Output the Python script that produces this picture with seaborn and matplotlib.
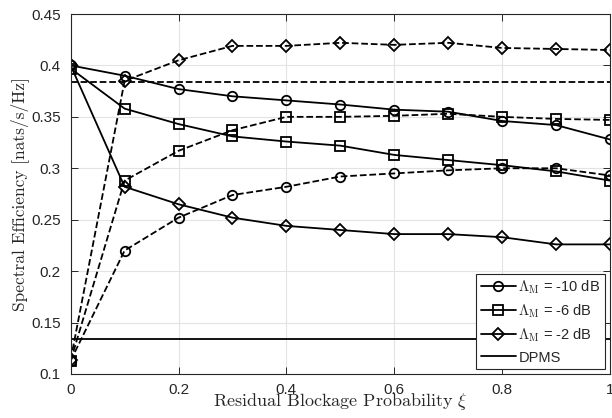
# Spectral efficiency vs residual blockage probability
import matplotlib
matplotlib.use("Agg")
import matplotlib.pyplot as plt
import seaborn as sns
import numpy as np
from matplotlib.lines import Line2D

xi = [0.0, 0.1, 0.2, 0.3, 0.4, 0.5, 0.6, 0.7, 0.8, 0.9, 1.0]

# solid curves
se_m10_solid = [0.400, 0.390, 0.377, 0.370, 0.366, 0.362, 0.357, 0.355, 0.346, 0.342, 0.328]
se_m6_solid = [0.397, 0.358, 0.343, 0.331, 0.326, 0.322, 0.313, 0.308, 0.303, 0.297, 0.288]
se_m2_solid = [0.400, 0.282, 0.265, 0.252, 0.244, 0.240, 0.236, 0.236, 0.233, 0.226, 0.226]

# dashed curves
se_m10_dash = [0.113, 0.220, 0.252, 0.274, 0.282, 0.292, 0.295, 0.298, 0.300, 0.300, 0.293]
se_m6_dash = [0.113, 0.288, 0.317, 0.337, 0.350, 0.350, 0.351, 0.353, 0.350, 0.348, 0.347]
se_m2_dash = [0.114, 0.385, 0.405, 0.419, 0.419, 0.422, 0.420, 0.422, 0.417, 0.416, 0.415]

upper_ref = 0.384
dpms = 0.134

labels = [r'$\Lambda_{\mathrm{M}}$ = -10 dB', r'$\Lambda_{\mathrm{M}}$ = -6 dB',
          r'$\Lambda_{\mathrm{M}}$ = -2 dB', 'DPMS']

sns.set_style("whitegrid")
plt.rcParams['font.family'] = ['Liberation Sans', 'DejaVu Sans']
plt.rcParams['mathtext.fontset'] = 'cm'

fig = plt.figure(figsize=(6.12, 4.18), dpi=100)
ax = fig.add_axes([0.1155, 0.1053, 0.8812, 0.8612])

axc = '#262626'
mk = dict(mfc='none', mec='black', ms=6.8, mew=1.3, lw=1.3, color='black')

sns.lineplot(x=xi, y=se_m10_solid, ax=ax, marker='o', **mk)
sns.lineplot(x=xi, y=se_m6_solid, ax=ax, marker='s', **mk)
sns.lineplot(x=xi, y=se_m2_solid, ax=ax, marker='D', **{**mk, 'ms': 6.2})
sns.lineplot(x=xi, y=se_m10_dash, ax=ax, marker='o', ls='--', **mk)
sns.lineplot(x=xi, y=se_m6_dash, ax=ax, marker='s', ls='--', **mk)
sns.lineplot(x=xi, y=se_m2_dash, ax=ax, marker='D', ls='--', **{**mk, 'ms': 6.2})
sns.lineplot(x=[xi[0], xi[-1]], y=[upper_ref, upper_ref], ax=ax, ls='--', lw=1.3, color='black')
sns.lineplot(x=[xi[0], xi[-1]], y=[dpms, dpms], ax=ax, lw=1.3, color='black')

ax.set_xlim(0, 1)
ax.set_ylim(0.1, 0.45)
ax.set_xticks([0, 0.2, 0.4, 0.6, 0.8, 1])
ax.set_xticklabels(['0', '0.2', '0.4', '0.6', '0.8', '1'])
ax.set_yticks(np.arange(0.1, 0.451, 0.05))
ax.set_yticklabels(['0.1', '0.15', '0.2', '0.25', '0.3', '0.35', '0.4', '0.45'])
ax.grid(True, color='#e3e3e3', lw=0.8)
for s in ax.spines.values():
    s.set_color(axc)
    s.set_linewidth(0.8)
ax.tick_params(direction='in', length=5, width=0.7, colors=axc, labelsize=11,
               top=True, right=True, bottom=True, left=True, labelcolor=axc)
ax.tick_params(axis='y', pad=7)
ax.tick_params(axis='x', pad=6.5)

ax.set_xlabel(r'Residual Blockage Probability $\xi$', fontfamily='cmr10', fontsize=13,
              labelpad=-4, color='#262626')
ax.set_ylabel('Spectral Efficiency [nats/s/Hz]', fontfamily='cmr10', fontsize=12.5,
              labelpad=2, color='#262626')

handles = [Line2D([], [], marker='o', **mk), Line2D([], [], marker='s', **mk),
           Line2D([], [], marker='D', **{**mk, 'ms': 6.2}), Line2D([], [], lw=1.3, color='black')]
leg = ax.legend(handles, labels, loc='lower right', fontsize=10.5, frameon=True, fancybox=False,
                edgecolor=axc, framealpha=1, borderaxespad=0.35, handlelength=2.4,
                handletextpad=0.2, labelspacing=0.45, borderpad=0.3)
leg.get_frame().set_linewidth(0.8)

fig.savefig("out.png", dpi=100)
